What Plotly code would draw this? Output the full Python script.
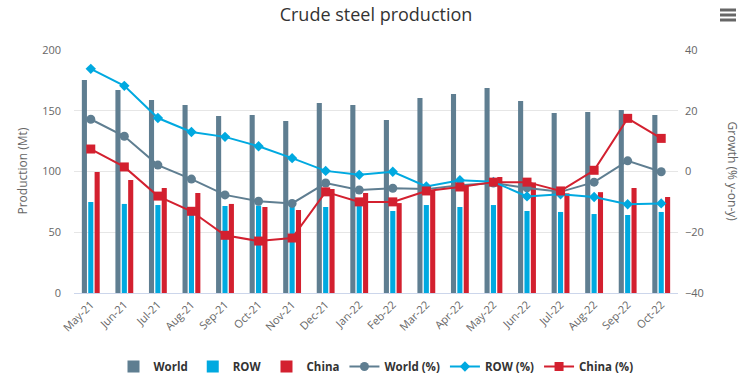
import plotly.graph_objects as go

months = ["May-21", "Jun-21", "Jul-21", "Aug-21", "Sep-21", "Oct-21", "Nov-21", "Dec-21",
          "Jan-22", "Feb-22", "Mar-22", "Apr-22", "May-22", "Jun-22", "Jul-22", "Aug-22",
          "Sep-22", "Oct-22"]

world = [175.3, 167.0, 158.8, 154.7, 145.7, 146.5, 141.6, 156.4, 154.7, 142.4, 160.5,
         163.8, 168.7, 158.0, 148.1, 149.0, 150.6, 146.5]
row = [74.9, 73.3, 72.4, 67.0, 71.6, 72.0, 72.0, 70.8, 72.4, 67.5, 72.4, 70.8, 72.4,
       67.5, 66.7, 65.0, 64.2, 66.7]
china = [99.6, 93.0, 86.4, 82.3, 73.3, 70.8, 68.3, 85.6, 82.3, 74.0, 84.8, 89.0, 95.5,
         91.0, 82.0, 83.0, 86.4, 79.0]

world_pct = [17.2, 11.6, 2.1, -2.5, -7.7, -9.8, -10.5, -3.8, -6.1, -5.5, -5.8, -4.5,
             -3.8, -5.4, -6.7, -3.5, 3.5, -0.1]
row_pct = [33.8, 28.2, 17.6, 13.0, 11.4, 8.3, 4.4, 0.2, -1.1, -0.1, -4.9, -2.9, -3.4,
           -8.2, -7.5, -8.4, -10.8, -10.5]
china_pct = [7.4, 1.5, -8.1, -13.1, -21.0, -22.9, -21.9, -6.7, -10.0, -10.0, -6.4, -5.1,
             -3.5, -3.5, -6.4, 0.4, 17.5, 10.9]

C_WORLD = "#5f7e91"
C_ROW = "#00a9e0"
C_CHINA = "#d3202f"

FONT = "Open Sans, DejaVu Sans, sans-serif"

fig = go.Figure()
fig.add_trace(go.Bar(x=months, y=world, name="World", marker=dict(color=C_WORLD, line_width=0)))
fig.add_trace(go.Bar(x=months, y=row, name="ROW", marker=dict(color=C_ROW, line_width=0)))
fig.add_trace(go.Bar(x=months, y=china, name="China", marker=dict(color=C_CHINA, line_width=0)))

fig.add_trace(go.Scatter(x=months, y=world_pct, name="World (%)", yaxis="y2", mode="lines+markers",
                         line=dict(color=C_WORLD, width=2),
                         marker=dict(symbol="circle", size=9, color=C_WORLD)))
fig.add_trace(go.Scatter(x=months, y=row_pct, name="ROW (%)", yaxis="y2", mode="lines+markers",
                         line=dict(color=C_ROW, width=2),
                         marker=dict(symbol="diamond", size=8, color=C_ROW)))
fig.add_trace(go.Scatter(x=months, y=china_pct, name="China (%)", yaxis="y2", mode="lines+markers",
                         line=dict(color=C_CHINA, width=2),
                         marker=dict(symbol="square", size=9, color=C_CHINA)))

L, R, T, B = 74, 74, 50, 90
PW = 752 - L - R
PH = 383 - T - B

fig.update_layout(
    width=752, height=383,
    margin=dict(l=L, r=R, t=T, b=B, autoexpand=False),
    paper_bgcolor="white", plot_bgcolor="white",
    font=dict(family=FONT, color="#666666", size=11),
    title=dict(text="Crude steel production", x=0.5, xanchor="center",
               yref="container", y=1 - 15 / 383, yanchor="middle",
               font=dict(size=18, color="#333333")),
    barmode="group", bargap=0.43, bargroupgap=0.2,
    showlegend=True,
    legend=dict(orientation="h", x=0.5, xanchor="center", y=-(352 - 293) / PH, yanchor="top",
                font=dict(size=11.5, color="#333333", family=FONT, weight="bold"),
                itemwidth=30, traceorder="normal"),
    xaxis=dict(tickangle=-45, showgrid=False, showline=True, linecolor="#ccd6eb", linewidth=1,
               range=[-0.5, len(months) - 0.5], autorange=False,
               ticks="", automargin=False, tickfont=dict(size=11, color="#666666")),
    yaxis=dict(range=[0, 200], tickvals=[0, 50, 100, 150, 200], showgrid=True, gridcolor="#e6e6e6",
               zeroline=False, ticks="", automargin=False, ticklabelstandoff=12,
               tickfont=dict(size=11, color="#666666")),
    yaxis2=dict(range=[-40, 40], tickvals=[-40, -20, 0, 20, 40], overlaying="y", side="right",
                showgrid=False, zeroline=False, ticks="", automargin=False, ticklabelstandoff=6,
                tickfont=dict(size=11, color="#666666")),
    annotations=[
        dict(text="Production (Mt)", xref="paper", yref="paper", x=0, xshift=-(L - 22), y=0.5,
             xanchor="center", yanchor="middle",
             textangle=-90, showarrow=False, font=dict(size=12, color="#666666")),
        dict(text="Growth (% y-on-y)", xref="paper", yref="paper", x=1.0, xshift=(732 - (L + PW)), y=0.5,
             xanchor="center", yanchor="middle",
             textangle=90, showarrow=False, font=dict(size=12, color="#666666")),
    ],
)

# hamburger export-menu icon
for yy in [10, 15, 20]:
    fig.add_shape(type="line", xref="paper", yref="paper",
                  x0=(720 - L) / PW, x1=(736 - L) / PW,
                  y0=(383 - B - yy) / PH, y1=(383 - B - yy) / PH,
                  line=dict(color="#666666", width=3))

fig.write_html("out.html", config={"displayModeBar": False},
               post_script="document.body.style.margin='0';document.body.style.overflow='hidden';")
